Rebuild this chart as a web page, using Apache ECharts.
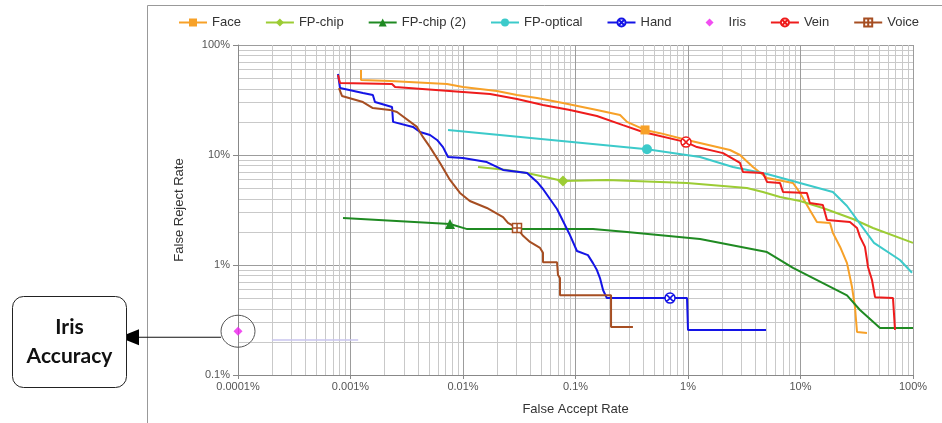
<!DOCTYPE html>
<html><head><meta charset="utf-8">
<script src="https://cdn.jsdelivr.net/npm/echarts@6/dist/echarts.min.js"></script>
<style>html,body{margin:0;padding:0;background:#fff}#c{width:942px;height:423px}</style>
</head><body><div id="c"></div>
<script>
// Data: [False Accept Rate %, False Reject Rate %]
const faceData = [[0.00124,59.3],[0.00124,48.1],[0.00224,47.1],[0.0072,44.2],[0.01,41.5],[0.020,38.2],[0.0302,35.1],[0.0455,33.0],[0.0774,29.7],[0.155,25.7],[0.249,23.1],[0.287,20.0],[0.415,16.9],[0.564,15.8],[0.98,13.7],[2.36,11.1],[2.90,10.0],[3.78,7.78],[5.04,6.18],[8.58,5.56],[9.91,4.52],[12.1,3.16],[14.0,2.46],[18.3,2.41],[19.4,1.96],[22.5,1.46],[25.9,1.04],[28.7,0.63],[30.5,0.415],[31.8,0.246],[39.0,0.241]];
const fpChipData = [[0.0136,7.78],[0.0246,7.31],[0.0371,6.86],[0.0774,5.81],[0.19,5.93],[0.98,5.56],[3.34,5.01],[4.64,4.61],[6.58,4.15],[9.91,3.82],[15.8,3.30],[29.3,2.62],[44.1,2.17],[100,1.59]];
const fpChip2Data = [[0.000858,2.67],[0.00766,2.36],[0.0109,2.12],[0.143,2.12],[0.287,2.0],[1.28,1.72],[5.04,1.31],[8.58,0.94],[25.9,0.53],[33.8,0.39],[50.9,0.267],[100,0.267]];
const fpOpticalData = [[0.00736,16.9],[0.432,11.3],[1.28,9.59],[2.51,7.78],[5.04,6.72],[19.4,4.61],[25.9,3.44],[45,1.59],[76.6,1.11],[98,0.85]];
const handData = [[0.000774,54.5],[0.000807,40.6],[0.00129,36.6],[0.00158,35.1],[0.00165,30.3],[0.00234,27.3],[0.00239,20.0],[0.00359,18.0],[0.00415,16.2],[0.00509,15.2],[0.00588,13.7],[0.00664,11.8],[0.00736,9.59],[0.01,9.39],[0.0163,8.63],[0.0227,7.31],[0.0371,6.86],[0.0455,5.69],[0.0514,4.91],[0.0593,3.98],[0.0685,3.23],[0.0774,2.51],[0.0893,1.87],[0.103,1.34],[0.129,1.23],[0.143,1.04],[0.155,0.90],[0.165,0.76],[0.176,0.59],[0.19,0.50],[0.692,0.50],[0.98,0.50],[1.0,0.257],[4.94,0.257]];
const irisData = [[0.0001,0.25]];
const veinData = [[0.000774,53.4],[0.000807,45.2],[0.00234,44.2],[0.00249,41.5],[0.01,37.4],[0.0174,35.9],[0.0302,32.3],[0.0514,28.5],[0.0893,25.7],[0.155,22.6],[0.264,18.7],[0.398,16.2],[0.96,13.1],[1.20,11.8],[2.05,10.4],[2.90,8.46],[3.08,7.0],[4.64,6.86],[5.04,5.69],[6.58,5.56],[6.99,4.61],[11.4,4.52],[12.1,3.66],[15.8,3.51],[17.2,2.56],[27.5,2.46],[31.8,2.17],[33.8,1.80],[37.4,1.46],[39.0,1.11],[39.8,0.96],[43.2,0.73],[46.0,0.51],[66.4,0.50],[69.2,0.257]];
const voiceData = [[0.00079,40.6],[0.00084,34.4],[0.00129,30.3],[0.00158,26.7],[0.00224,25.7],[0.00259,24.6],[0.0039,18.0],[0.0044,14.6],[0.00509,11.8],[0.00625,8.46],[0.00766,5.93],[0.0094,4.52],[0.0115,3.82],[0.0163,3.30],[0.0227,2.73],[0.0251,2.41],[0.0302,2.17],[0.0342,1.84],[0.0394,1.62],[0.0484,1.43],[0.0514,1.29],[0.0514,1.06],[0.0685,1.06],[0.0699,0.81],[0.0728,0.76],[0.0728,0.53],[0.207,0.53],[0.207,0.273],[0.324,0.273]];
const irisTraceData = [[0.0002,0.208],[0.00117,0.208]];

// index of the single marker drawn on each curve
const faceMarker = 12, fpChipMarker = 3, fpChip2Marker = 1, fpOpticalMarker = 1, handMarker = 30, veinMarker = 12, voiceMarker = 16;

const xTickLabels = ['0.0001%','0.001%','0.01%','0.1%','1%','10%','100%'];
const yTickLabels = ['0.1%','1%','10%','100%'];
const legendNames = ['Face','FP-chip','FP-chip (2)','FP-optical','Hand','Iris','Vein','Voice'];

const FONT = 'Liberation Sans, Arial, sans-serif';
const circleX = 'path://M10,0A10,10,0,1,1,10,20A10,10,0,1,1,10,0ZM3,3L17,17M17,3L3,17';
const squarePlus = 'path://M0,0H20V20H0ZM10,0V20M0,10H20';
const irisLegendIcon = 'path://M0,0M28,10M14,1L18,5L14,9L10,5Z';

function withMarker(data, idx) {
  return data.map((p, i) => i === idx ? { value: p } : { value: p, symbol: 'none' });
}
function lineSeries(name, data, idx, color, symbol, size, hollow) {
  return {
    name, type: 'line', data: withMarker(data, idx), symbol, symbolSize: size,
    showSymbol: true, showAllSymbol: true, clip: true,
    lineStyle: { color, width: 2 },
    itemStyle: hollow ? { color: '#fff', borderColor: color, borderWidth: 1.5 } : { color },
    z: 3, animation: false
  };
}

const chart = echarts.init(document.getElementById('c'));
const axisLabelStyle = { color: '#555', fontSize: 11, fontFamily: FONT };
chart.setOption({
  animation: false,
  backgroundColor: '#fff',
  grid: { left: 238, right: 29, top: 45, bottom: 48 },
  legend: {
    data: legendNames.map(n => n === 'Iris' ? { name: n, icon: irisLegendIcon } : n),
    top: 11, left: 173, itemWidth: 28, itemHeight: 10, itemGap: 24,
    textStyle: { color: '#333', fontSize: 13, fontFamily: FONT }
  },
  xAxis: {
    type: 'log', logBase: 10, min: 0.0001, max: 100,
    name: 'False Accept Rate', nameLocation: 'middle', nameGap: 28,
    nameTextStyle: { color: '#333', fontSize: 13, fontFamily: FONT },
    axisLine: { show: true, lineStyle: { color: '#888' } },
    axisTick: { show: true, length: 4, lineStyle: { color: '#888' } },
    axisLabel: Object.assign({ margin: 6, formatter: v => xTickLabels[Math.round(Math.log10(v)) + 4] }, axisLabelStyle),
    splitLine: { show: true, lineStyle: { color: '#9c9c9c', width: 1 } },
    minorTick: { show: false, splitNumber: 9 },
    minorSplitLine: { show: true, lineStyle: { color: '#c9c9c9', width: 1 } }
  },
  yAxis: {
    type: 'log', logBase: 10, min: 0.1, max: 100,
    name: 'False Reject Rate', nameLocation: 'middle', nameGap: 52,
    nameTextStyle: { color: '#333', fontSize: 13, fontFamily: FONT },
    axisLine: { show: true, lineStyle: { color: '#888' } },
    axisTick: { show: true, length: 5, lineStyle: { color: '#888' } },
    axisLabel: Object.assign({ margin: 8, formatter: v => yTickLabels[Math.round(Math.log10(v)) + 1] }, axisLabelStyle),
    splitLine: { show: true, lineStyle: { color: '#9c9c9c', width: 1 } },
    minorTick: { show: false, splitNumber: 9 },
    minorSplitLine: { show: true, lineStyle: { color: '#c9c9c9', width: 1 } }
  },
  series: [
    { name: 'irisTrace', type: 'line', data: irisTraceData, symbol: 'none', lineStyle: { color: '#c8c4ee', width: 1.5 }, z: 2, silent: true },
    lineSeries('Face', faceData, faceMarker, '#f7a128', 'rect', 9, false),
    lineSeries('FP-chip', fpChipData, fpChipMarker, '#9ccc34', 'diamond', 11, false),
    lineSeries('FP-chip (2)', fpChip2Data, fpChip2Marker, '#1f8a22', 'triangle', 10, false),
    lineSeries('FP-optical', fpOpticalData, fpOpticalMarker, '#3ccaca', 'circle', 10, false),
    lineSeries('Hand', handData, handMarker, '#1414e6', circleX, 10, true),
    { name: 'Iris', type: 'scatter', data: irisData, symbol: 'diamond', symbolSize: 9, itemStyle: { color: '#ee22ee' }, z: 4, clip: false },
    lineSeries('Vein', veinData, veinMarker, '#ee1c1c', circleX, 10, true),
    lineSeries('Voice', voiceData, voiceMarker, '#a64e22', squarePlus, 9, true)
  ]
});

// Decorations: chart frame and "Iris Accuracy" callout
const ip = chart.convertToPixel({ gridIndex: 0 }, irisData[0]);
const calloutFont = 'bold 21px Lato, "Open Sans", sans-serif';
chart.setOption({
  graphic: [
    { type: 'line', shape: { x1: 147.5, y1: 5.5, x2: 942, y2: 5.5 }, style: { stroke: '#999', lineWidth: 1 } },
    { type: 'line', shape: { x1: 147.5, y1: 5.5, x2: 147.5, y2: 423 }, style: { stroke: '#999', lineWidth: 1 } },
    { type: 'ellipse', shape: { cx: ip[0], cy: ip[1], rx: 17, ry: 16 }, style: { fill: 'none', stroke: '#555', lineWidth: 1 }, z: 10 },
    { type: 'line', shape: { x1: ip[0] - 17, y1: ip[1] + 6, x2: 138, y2: ip[1] + 6 }, style: { stroke: '#111', lineWidth: 1.2 }, z: 10 },
    { type: 'polygon', shape: { points: [[119, ip[1] + 6], [139, ip[1] - 2], [139, ip[1] + 14]] }, style: { fill: '#000' }, z: 10 },
    { type: 'rect', shape: { x: 12.5, y: 296.5, width: 114, height: 91, r: 11 }, style: { fill: '#fff', stroke: '#222', lineWidth: 1 }, z: 10 },
    { type: 'text', x: 69.5, y: 327, style: { text: 'Iris', fill: '#111', font: calloutFont, textAlign: 'center', textVerticalAlign: 'middle' }, z: 11 },
    { type: 'text', x: 69.5, y: 356, style: { text: 'Accuracy', fill: '#111', font: calloutFont, textAlign: 'center', textVerticalAlign: 'middle' }, z: 11 }
  ]
});
</script>
</body></html>
